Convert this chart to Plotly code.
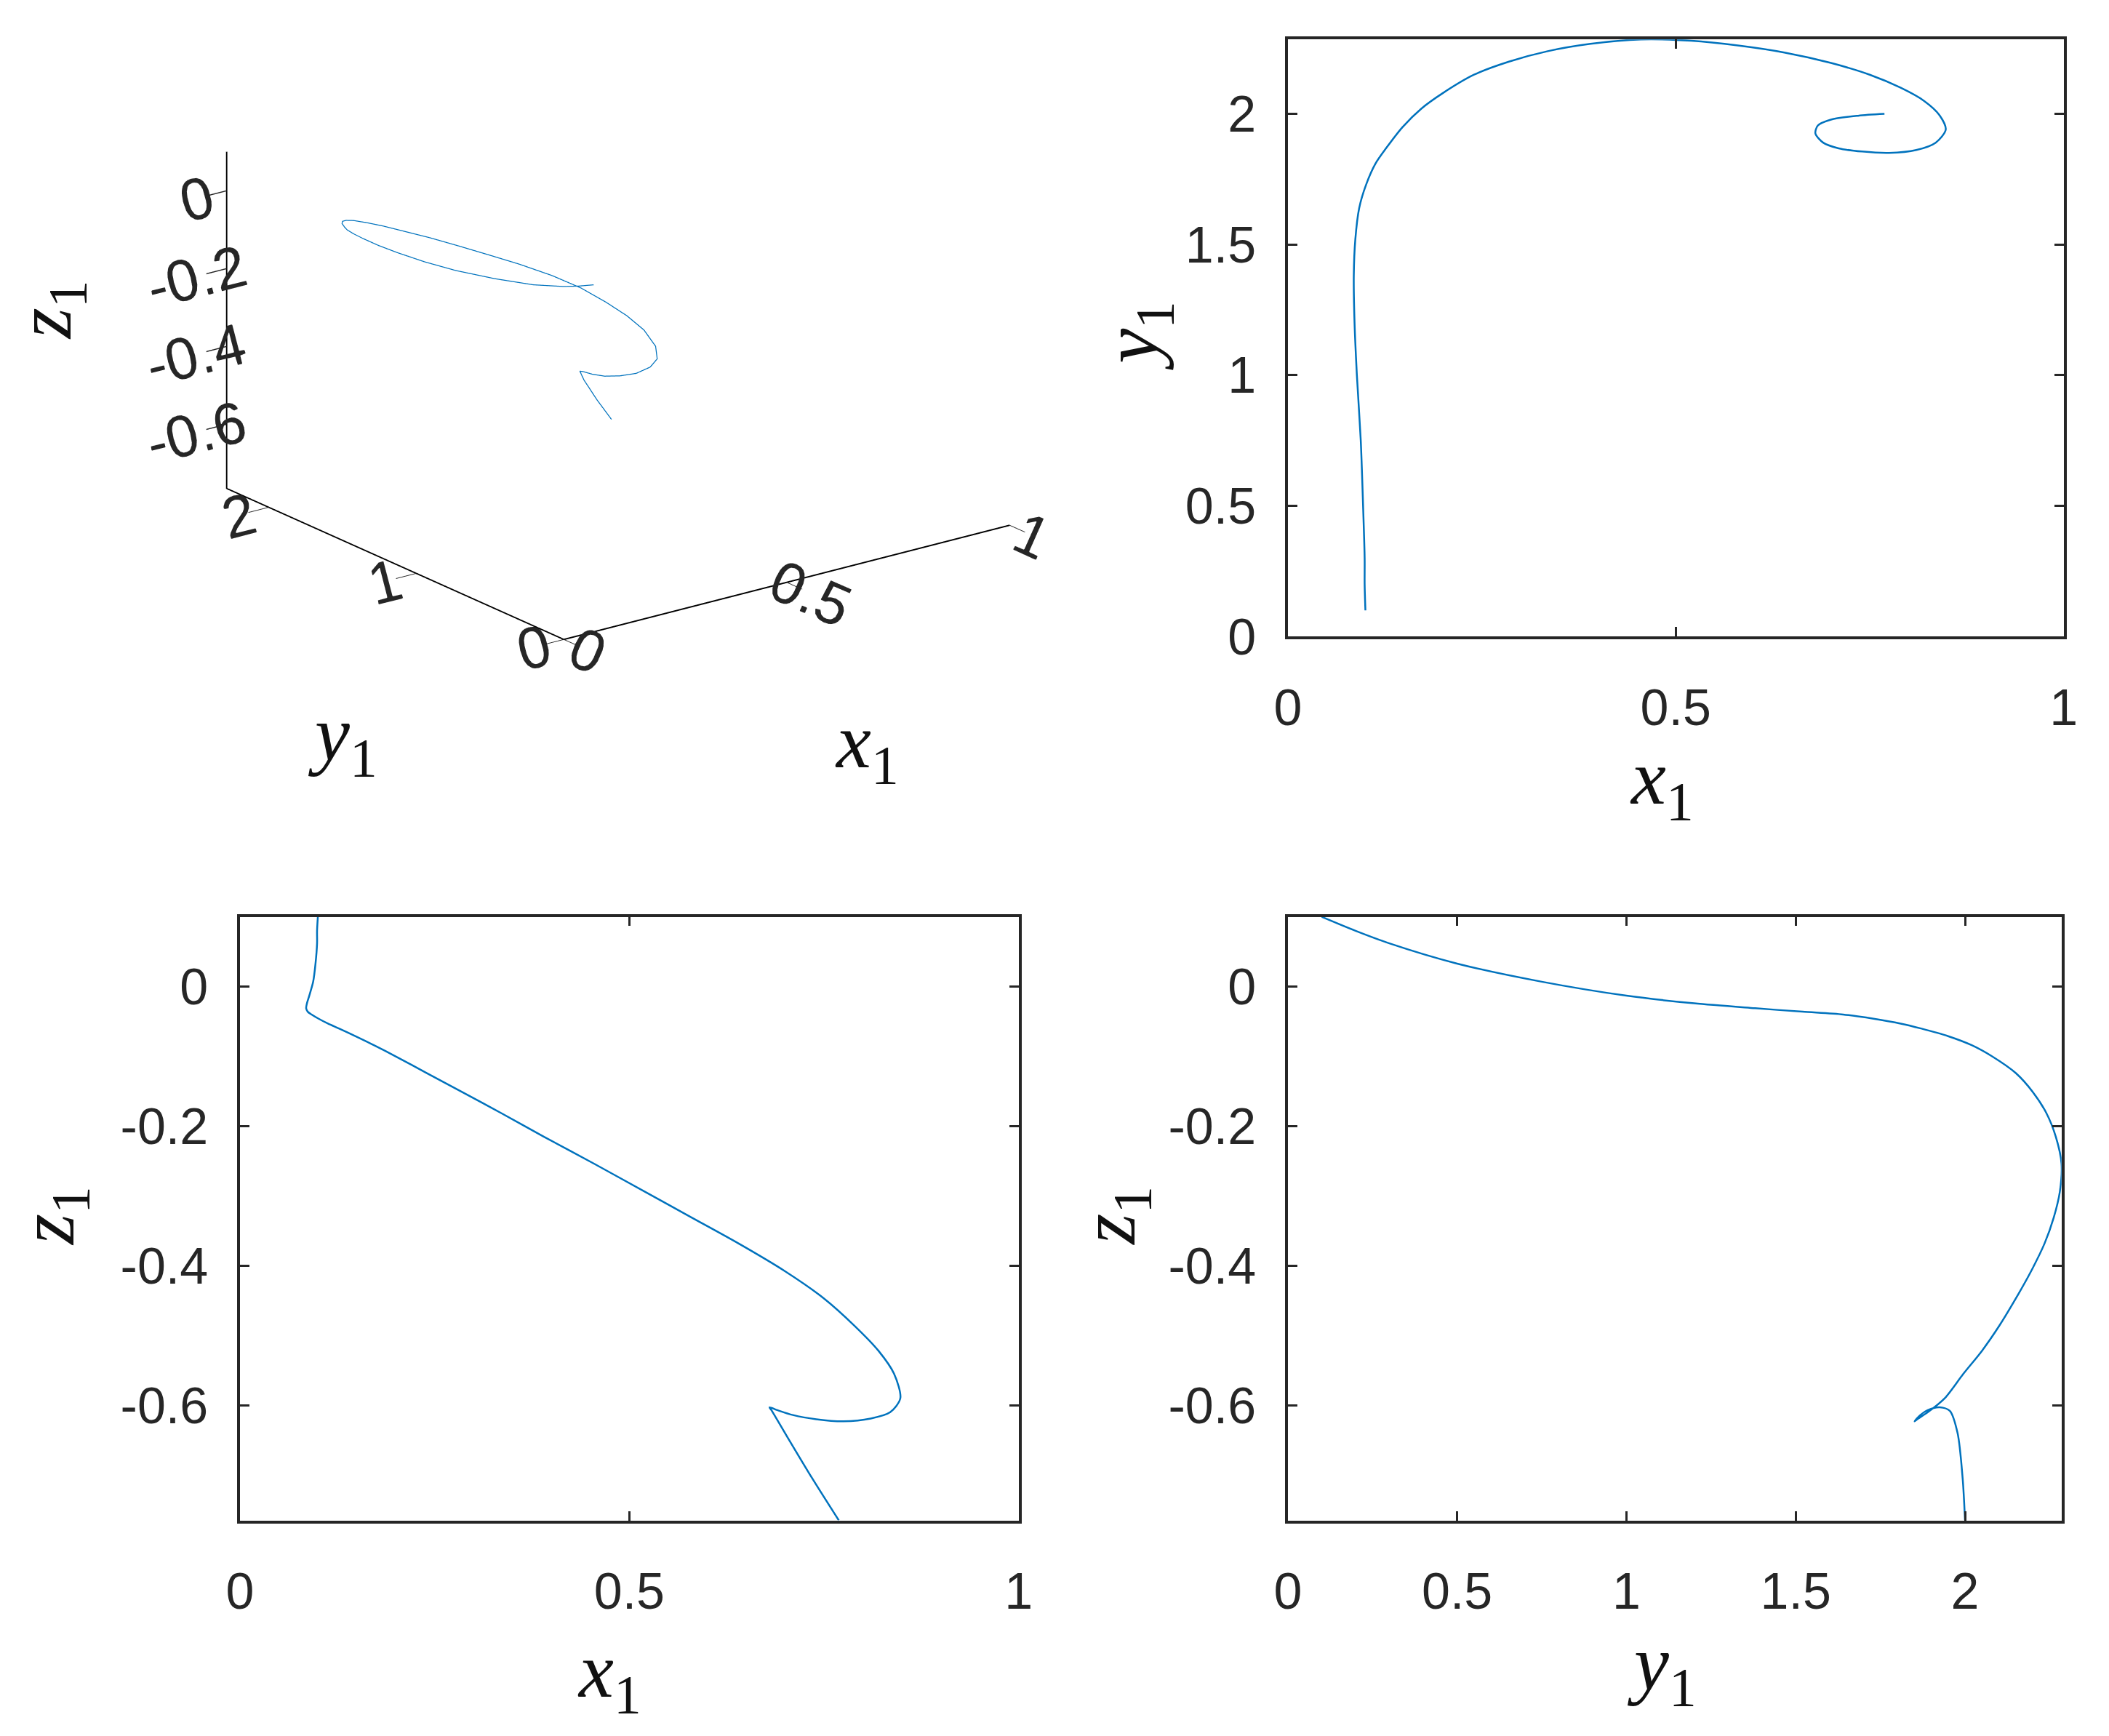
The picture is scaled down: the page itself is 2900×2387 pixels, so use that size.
import plotly.graph_objects as go

# -----------------------------------
# Trajectory
# -----------------------------------
x1 = [0.100, 0.099, 0.099, 0.097, 0.094, 0.089, 0.086, 0.085, 0.087, 0.092, 0.101,
      0.113, 0.127, 0.148, 0.172, 0.200, 0.240, 0.285, 0.335, 0.390, 0.455,
      0.520, 0.580, 0.640, 0.700, 0.750, 0.790, 0.820, 0.840, 0.848, 0.835,
      0.810, 0.775, 0.740, 0.710, 0.690, 0.680, 0.683, 0.700, 0.735, 0.769]
y1 = [0.100, 0.200, 0.300, 0.500, 0.750, 1.000, 1.200, 1.380, 1.520, 1.640, 1.730,
      1.810, 1.870, 1.950, 2.020, 2.080, 2.150, 2.200, 2.240, 2.268, 2.285,
      2.280, 2.262, 2.235, 2.195, 2.150, 2.100, 2.050, 1.995, 1.940, 1.890,
      1.862, 1.851, 1.856, 1.868, 1.890, 1.925, 1.955, 1.978, 1.993, 2.000]
z1 = [0.100, 0.080, 0.062, 0.033, 0.007, -0.013, -0.024, -0.031, -0.036, -0.040, -0.046,
      -0.053, -0.060, -0.071, -0.084, -0.100, -0.124, -0.151, -0.181, -0.215, -0.254,
      -0.294, -0.331, -0.368, -0.408, -0.447, -0.487, -0.522, -0.555, -0.590, -0.610,
      -0.619, -0.623, -0.620, -0.614, -0.607, -0.603, -0.608, -0.640, -0.705, -0.765]

x_ticks = [0, 0.5, 1]
x_labels = ["0", "0.5", "1"]
y_ticks = [0, 0.5, 1, 1.5, 2]
y_labels = ["0", "0.5", "1", "1.5", "2"]
y3d_ticks = [0, 1, 2]
y3d_labels = ["0", "1", "2"]
z_ticks = [0, -0.2, -0.4, -0.6]
z_labels = ["0", "-0.2", "-0.4", "-0.6"]

x_range = [0, 1]
y_range = [0, 2.285]
z_range = [-0.765, 0.1]

W, H = 2900, 2387
LINE = "#0072BD"
AX = "#262626"
TICK_FONT = dict(family="Liberation Sans, Arial", size=70, color=AX)
TICK_FONT_3D = dict(family="Liberation Sans, Arial", size=31, color=AX)
LABEL_FONT = dict(family="Liberation Serif, Times New Roman", size=108, color="#111111")


def axis2d(rng, vals, text, dom, anchor, is_x):
    d = dict(
        domain=dom, anchor=anchor, range=rng,
        tickvals=vals, ticktext=text,
        ticks="inside", ticklen=13, tickwidth=3, tickcolor=AX,
        showline=True, linecolor=AX, linewidth=3.5, mirror="ticks",
        showgrid=False, zeroline=False, tickfont=TICK_FONT,
        ticklabelstandoff=34 if is_x else 26,
    )
    return d


fig = go.Figure()

# top-right: x1 vs y1
fig.add_trace(go.Scatter(x=x1, y=y1, mode="lines", line=dict(color=LINE, width=2.5, shape="spline", smoothing=0.8),
                         xaxis="x", yaxis="y", showlegend=False))
# bottom-left: x1 vs z1
fig.add_trace(go.Scatter(x=x1, y=z1, mode="lines", line=dict(color=LINE, width=2.5, shape="spline", smoothing=0.8),
                         xaxis="x2", yaxis="y2", showlegend=False))
# bottom-right: y1 vs z1
fig.add_trace(go.Scatter(x=y1, y=z1, mode="lines", line=dict(color=LINE, width=2.5, shape="spline", smoothing=0.8),
                         xaxis="x3", yaxis="y3", showlegend=False))
# top-left: 3D
fig.add_trace(go.Scatter3d(x=x1, y=y1, z=z1, mode="lines", line=dict(color=LINE, width=2.5),
                           scene="scene", showlegend=False))

tr_x = [1767 / W, 2848 / W]
tr_y = [1 - 882 / H, 1 - 47 / H]
bl_x = [307 / W, 1392 / W]
b_y = [1 - 2118 / H, 1 - 1274 / H]
br_x = [1767 / W, 2845 / W]

axis3d = dict(
    showbackground=False, showgrid=False, zeroline=False,
    showline=True, linecolor="#000000", linewidth=4,
    ticks="outside", ticklen=35, tickwidth=3, tickcolor=AX,
    tickfont=TICK_FONT_3D, showspikes=False, title=dict(text=""),
)

S = 1.68
fig.update_layout(
    width=W, height=H,
    margin=dict(l=0, r=0, t=0, b=0),
    paper_bgcolor="white", plot_bgcolor="white",
    xaxis=axis2d(x_range, x_ticks, x_labels, tr_x, "y", True),
    yaxis=axis2d(y_range, y_ticks, y_labels, tr_y, "x", False),
    xaxis2=axis2d(x_range, x_ticks, x_labels, bl_x, "y2", True),
    yaxis2=axis2d(z_range, z_ticks, z_labels, b_y, "x2", False),
    xaxis3=axis2d(y_range, y_ticks, y_labels, br_x, "y3", True),
    yaxis3=axis2d(z_range, z_ticks, z_labels, b_y, "x3", False),
    scene=dict(
        domain=dict(x=[0.0125, 0.5625], y=[0.61, 1.0]),
        xaxis=dict(axis3d, range=x_range, tickvals=x_ticks, ticktext=x_labels),
        yaxis=dict(axis3d, range=y_range, tickvals=y3d_ticks, ticktext=y3d_labels),
        zaxis=dict(axis3d, range=z_range, tickvals=z_ticks, ticktext=z_labels),
        aspectmode="manual",
        aspectratio=dict(x=S, y=S, z=0.64 * S),
        camera=dict(
            projection=dict(type="orthographic"),
            eye=dict(x=-0.5676 * 1.25, y=-0.7505 * 1.25, z=0.3387 * 1.25),
            center=dict(x=0, y=0, z=0),
        ),
    ),
)

labels = [
    ("<i>x</i><sub>1</sub>", 2288, 1087, 0),
    ("<i>y</i><sub>1</sub>", 1556, 462, -90),
    ("<i>x</i><sub>1</sub>", 822, 2336, 0),
    ("<i>z</i><sub>1</sub>", 46, 1692, -90),
    ("<i>y</i><sub>1</sub>", 2288, 2325, 0),
    ("<i>z</i><sub>1</sub>", 1525, 1692, -90),
    ("<i>z</i><sub>1</sub>", 42, 425, -90),
    ("<i>y</i><sub>1</sub>", 450, 1026, 0),
    ("<i>x</i><sub>1</sub>", 1180, 1036, 0),
]
for txt, px, py, ang in labels:
    fig.add_annotation(text=txt, x=px / W, y=1 - py / H, xref="paper", yref="paper",
                       showarrow=False, textangle=ang, font=LABEL_FONT,
                       xanchor="center", yanchor="middle")

fig.write_html("out.html")
